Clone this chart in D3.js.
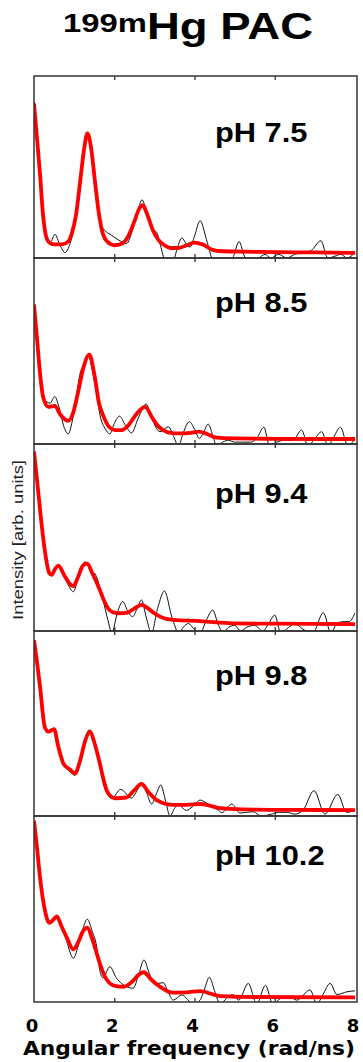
<!DOCTYPE html>
<html><head><meta charset="utf-8">
<script src="https://cdn.jsdelivr.net/npm/d3@7/dist/d3.min.js"></script>
<style>body{margin:0;background:#fff}svg{display:block}</style>
</head><body>
<svg id="c" width="363" height="1062"></svg>
<script>
// ---- data: [angular frequency (rad/ns), intensity (arb.)] ----
const panelLabels = ["pH 7.5","pH 8.5","pH 9.4","pH 9.8","pH 10.2"];
const xTickValues = [0,2,4,6,8];

const exp75 = [[0,0.86],[0.1,0.6],[0.2,0.3],[0.32,0.1],[0.42,0.09],[0.52,0.13],[0.65,0.07],[0.77,0.03],[0.9,0.08],[1.0,0.17],[1.1,0.32],[1.2,0.52],[1.33,0.69],[1.45,0.55],[1.55,0.36],[1.65,0.2],[1.77,0.15],[1.9,0.13],[2.1,0.1],[2.31,0.08],[2.45,0.15],[2.58,0.25],[2.69,0.32],[2.8,0.26],[2.95,0.16],[3.06,0.14],[3.15,0.07],[3.27,-0.01],[3.47,-0.01],[3.58,0.06],[3.68,0.11],[3.79,0.08],[3.89,0.06],[4.0,0.12],[4.14,0.205],[4.3,0.1],[4.46,-0.01],[4.6,-0.02],[4.8,-0.02],[4.95,0.0],[5.11,0.09],[5.27,0.0],[5.45,-0.01],[5.6,0.0],[5.76,0.02],[5.9,0.0],[6.1,0.02],[6.3,0.0],[6.5,0.02],[6.7,0.03],[6.9,0.04],[7.15,0.095],[7.32,0.0],[7.5,0.01],[7.65,0.02],[7.8,0.0],[8.0,0.03]];
const fit75 = [[0,0.85],[0.07,0.67],[0.15,0.46],[0.22,0.25],[0.3,0.12],[0.38,0.085],[0.5,0.075],[0.7,0.075],[0.85,0.09],[0.95,0.14],[1.05,0.24],[1.15,0.42],[1.25,0.6],[1.33,0.685],[1.42,0.61],[1.52,0.42],[1.62,0.24],[1.72,0.13],[1.85,0.085],[2.0,0.07],[2.2,0.08],[2.35,0.12],[2.5,0.2],[2.62,0.27],[2.71,0.29],[2.82,0.24],[2.95,0.16],[3.1,0.1],[3.25,0.07],[3.4,0.055],[3.6,0.055],[3.8,0.07],[4.0,0.085],[4.2,0.075],[4.45,0.045],[4.7,0.037],[5.5,0.034],[6.5,0.031],[7.5,0.03],[8.0,0.028]];

const exp85 = [[0,0.75],[0.1,0.5],[0.2,0.3],[0.3,0.23],[0.4,0.22],[0.52,0.255],[0.62,0.2],[0.75,0.09],[0.85,0.054],[0.95,0.12],[1.05,0.25],[1.15,0.38],[1.22,0.42],[1.35,0.48],[1.45,0.4],[1.55,0.28],[1.65,0.15],[1.78,0.08],[1.89,0.054],[2.0,0.11],[2.13,0.15],[2.28,0.1],[2.43,0.06],[2.6,0.14],[2.79,0.215],[2.95,0.13],[3.14,0.066],[3.35,0.093],[3.48,0.04],[3.6,-0.01],[3.72,0.06],[3.87,0.12],[4.0,0.08],[4.12,0.03],[4.22,0.06],[4.34,0.107],[4.45,0.05],[4.55,-0.01],[4.7,0.01],[4.85,0.02],[5.0,0.01],[5.2,0.01],[5.4,0.01],[5.55,0.03],[5.73,0.09],[5.87,-0.01],[6.05,0.01],[6.25,0.02],[6.45,0.02],[6.67,0.075],[6.83,-0.01],[7.0,0.03],[7.17,0.066],[7.33,-0.01],[7.45,0.03],[7.64,0.09],[7.82,-0.01],[8.0,0.03]];
const fit85 = [[0,0.75],[0.07,0.58],[0.15,0.38],[0.23,0.25],[0.36,0.2],[0.52,0.205],[0.65,0.16],[0.85,0.125],[0.98,0.17],[1.1,0.28],[1.22,0.4],[1.38,0.48],[1.5,0.38],[1.62,0.22],[1.73,0.15],[1.88,0.09],[2.02,0.075],[2.18,0.075],[2.35,0.1],[2.55,0.16],[2.77,0.2],[2.95,0.14],[3.1,0.095],[3.22,0.075],[3.4,0.06],[3.6,0.057],[3.9,0.06],[4.1,0.066],[4.3,0.055],[4.55,0.034],[5.0,0.03],[6.0,0.028],[7.0,0.027],[8.0,0.027]];

const exp94 = [[0,0.96],[0.08,0.8],[0.15,0.65],[0.27,0.43],[0.38,0.31],[0.44,0.3],[0.61,0.35],[0.8,0.27],[0.98,0.21],[1.1,0.28],[1.27,0.37],[1.4,0.33],[1.56,0.29],[1.64,0.23],[1.72,0.166],[1.84,0.06],[1.94,-0.01],[2.08,0.1],[2.21,0.157],[2.35,0.1],[2.46,0.077],[2.57,0.12],[2.68,0.166],[2.8,0.07],[2.93,-0.01],[3.08,0.12],[3.25,0.214],[3.43,0.08],[3.61,-0.01],[3.72,0.02],[3.85,0.04],[3.99,0.01],[4.14,-0.01],[4.3,0.06],[4.45,0.112],[4.6,0.03],[4.72,-0.01],[4.85,0.02],[5.0,0.03],[5.15,0.0],[5.3,0.02],[5.5,0.03],[5.7,0.0],[5.85,0.04],[6.0,0.085],[6.15,-0.01],[6.35,0.02],[6.5,0.04],[6.7,0.01],[6.95,-0.01],[7.21,0.098],[7.4,-0.01],[7.55,0.04],[7.7,0.05],[7.85,0.05],[8.0,0.096]];
const fit94 = [[0,0.96],[0.07,0.82],[0.15,0.65],[0.27,0.43],[0.38,0.31],[0.44,0.3],[0.52,0.33],[0.61,0.35],[0.75,0.3],[0.9,0.25],[0.98,0.24],[1.1,0.29],[1.22,0.35],[1.33,0.36],[1.45,0.31],[1.64,0.22],[1.75,0.16],[1.85,0.12],[1.97,0.1],[2.1,0.095],[2.31,0.097],[2.5,0.12],[2.68,0.14],[2.85,0.12],[3.0,0.095],[3.14,0.077],[3.47,0.059],[4.14,0.053],[4.96,0.041],[6.0,0.039],[8.0,0.037]];

const exp98 = [[0,0.95],[0.15,0.7],[0.27,0.48],[0.36,0.456],[0.5,0.475],[0.62,0.38],[0.73,0.285],[0.9,0.24],[1.02,0.22],[1.15,0.3],[1.25,0.4],[1.38,0.465],[1.5,0.4],[1.64,0.27],[1.75,0.16],[1.94,0.096],[2.16,0.144],[2.43,0.097],[2.55,0.13],[2.68,0.18],[2.8,0.13],[2.93,0.065],[3.05,0.12],[3.16,0.168],[3.28,0.08],[3.39,0.0],[3.5,0.04],[3.6,0.06],[3.8,0.03],[3.95,0.05],[4.14,0.086],[4.3,0.07],[4.47,0.05],[4.6,0.03],[4.68,0.018],[4.93,0.065],[5.13,0.016],[5.3,0.02],[5.47,0.023],[5.65,0.0],[5.92,0.01],[6.1,0.02],[6.3,0.02],[6.5,0.01],[6.7,0.03],[6.98,0.137],[7.25,0.01],[7.57,0.117],[7.79,0.02],[8.0,0.03]];
const fit98 = [[0,0.95],[0.07,0.84],[0.15,0.7],[0.27,0.48],[0.36,0.456],[0.5,0.47],[0.6,0.38],[0.73,0.285],[0.9,0.25],[1.02,0.23],[1.15,0.3],[1.28,0.41],[1.4,0.456],[1.5,0.4],[1.64,0.285],[1.74,0.19],[1.81,0.14],[1.92,0.105],[2.02,0.096],[2.3,0.1],[2.5,0.14],[2.68,0.173],[2.85,0.13],[3.06,0.086],[3.47,0.06],[3.8,0.06],[4.14,0.065],[4.4,0.055],[4.64,0.042],[5.2,0.036],[6.5,0.033],[8.0,0.032]];

const exp102 = [[0,0.97],[0.05,0.88],[0.15,0.67],[0.27,0.495],[0.38,0.43],[0.57,0.46],[0.7,0.4],[0.81,0.33],[0.98,0.235],[1.1,0.3],[1.2,0.38],[1.33,0.445],[1.45,0.38],[1.56,0.3],[1.64,0.17],[1.72,0.13],[1.89,0.19],[2.05,0.13],[2.18,0.1],[2.47,0.074],[2.6,0.14],[2.74,0.226],[2.88,0.15],[3.01,0.097],[3.22,0.104],[3.35,0.05],[3.47,0.01],[3.68,0.038],[3.97,-0.01],[4.14,0.01],[4.25,0.07],[4.37,0.133],[4.5,0.06],[4.64,-0.01],[4.8,0.02],[4.95,0.04],[5.1,0.01],[5.34,0.1],[5.55,-0.01],[5.77,0.09],[5.95,-0.01],[6.15,0.02],[6.35,0.03],[6.55,0.01],[6.88,0.065],[7.05,-0.01],[7.2,0.04],[7.38,0.1],[7.55,0.04],[7.8,0.055],[8.0,0.06]];
const fit102 = [[0,0.975],[0.07,0.84],[0.15,0.67],[0.27,0.495],[0.38,0.426],[0.47,0.44],[0.57,0.46],[0.68,0.41],[0.81,0.35],[0.98,0.283],[1.1,0.32],[1.22,0.38],[1.33,0.40],[1.45,0.34],[1.64,0.208],[1.76,0.14],[1.89,0.10],[2.05,0.085],[2.23,0.082],[2.45,0.11],[2.6,0.145],[2.74,0.16],[2.9,0.125],[3.14,0.082],[3.47,0.05],[3.8,0.052],[4.14,0.059],[4.4,0.045],[4.64,0.032],[5.5,0.027],[8.0,0.025]];

const expSeries = [exp75, exp85, exp94, exp98, exp102];
const fitSeries = [fit75, fit85, fit94, fit98, fit102];

// ---- layout ----
const L = 34, R = 357;
const panelEdges = [76, 258, 444, 631, 816, 1002];
const labelBaselineOffset = [66, 54, 59, 54, 49];

const svg = d3.select("#c");
const x = d3.scaleLinear().domain([0, 8]).range([L, 355]);

const defs = svg.append("defs");

panelLabels.forEach((lab, i) => {
  const top = panelEdges[i], bot = panelEdges[i+1];
  const y = d3.scaleLinear().domain([0, 1]).range([bot, top]);
  const g = svg.append("g");
  defs.append("clipPath").attr("id", "clip" + i)
    .append("rect").attr("x", L).attr("y", top).attr("width", R - L).attr("height", bot - top);

  const line = d3.line().x(d => x(d[0])).y(d => y(d[1])).curve(d3.curveMonotoneX);
  const cg = g.append("g").attr("clip-path", `url(#clip${i})`);
  cg.append("path").datum(expSeries[i]).attr("d", line)
    .attr("fill", "none").attr("stroke", "#111").attr("stroke-width", 1);
  cg.append("path").datum(fitSeries[i]).attr("d", line)
    .attr("fill", "none").attr("stroke", "#ff0000").attr("stroke-width", 3.8)
    .attr("stroke-linejoin", "round");

  // inward ticks top & bottom
  const axB = d3.axisBottom(x).tickValues([2,4,6]).tickSize(-4).tickFormat("");
  const axT = d3.axisTop(x).tickValues([2,4,6]).tickSize(-4).tickFormat("");
  g.append("g").attr("transform", `translate(0,${bot})`).call(axB)
    .call(s => s.select(".domain").remove())
    .selectAll("line").attr("stroke", "#222").attr("stroke-width", 1.2);
  g.append("g").attr("transform", `translate(0,${top})`).call(axT)
    .call(s => s.select(".domain").remove())
    .selectAll("line").attr("stroke", "#222").attr("stroke-width", 1.2);

  g.append("rect").attr("x", L).attr("y", top).attr("width", R - L).attr("height", bot - top)
    .attr("fill", "none").attr("stroke", "#333").attr("stroke-width", 1.5);

  const t = g.append("text").attr("x", 215).attr("y", top + labelBaselineOffset[i])
    .attr("font-family", "Liberation Sans, Arial, sans-serif").attr("font-weight", "bold")
    .attr("font-size", 28).attr("fill", "#000").text(lab);
  const w = t.node().getComputedTextLength();
  t.attr("textLength", w * 1.1).attr("lengthAdjust", "spacingAndGlyphs");
});

// bottom tick labels
const axLab = d3.axisBottom(x).tickValues(xTickValues).tickSize(0).tickPadding(0).tickFormat(d3.format("d"));
const gl = svg.append("g").attr("transform", `translate(0,${panelEdges[5]})`).call(axLab);
gl.select(".domain").remove();
gl.selectAll("text").attr("font-family", "DejaVu Sans, Verdana, sans-serif").attr("font-weight", "bold")
  .attr("font-size", 18).attr("fill", "#000").attr("dy", null).attr("y", 30).attr("dx", -2.5);

// axis title
svg.append("text").attr("x", 23).attr("y", 1055)
  .attr("font-family", "DejaVu Sans, Verdana, sans-serif").attr("font-weight", "bold")
  .attr("font-size", 20).attr("textLength", 332).attr("lengthAdjust", "spacingAndGlyphs")
  .text("Angular frequency (rad/ns)");

// y label
svg.append("text").attr("transform", "translate(23,540) rotate(-90)").attr("text-anchor", "middle")
  .attr("font-family", "Liberation Sans, Arial, sans-serif").attr("font-size", 15).attr("fill", "#222")
  .attr("textLength", 160).attr("lengthAdjust", "spacingAndGlyphs")
  .text("Intensity [arb. units]");

// title
const title = svg.append("g").attr("font-family", "Liberation Sans, Arial, sans-serif").attr("font-weight", "bold");
title.append("text").attr("x", 63).attr("y", 32).attr("font-size", 26)
  .attr("textLength", 84).attr("lengthAdjust", "spacingAndGlyphs").text("199m");
title.append("text").attr("x", 147).attr("y", 39).attr("font-size", 36)
  .attr("textLength", 166).attr("lengthAdjust", "spacingAndGlyphs").text("Hg PAC");
</script>
</body></html>
